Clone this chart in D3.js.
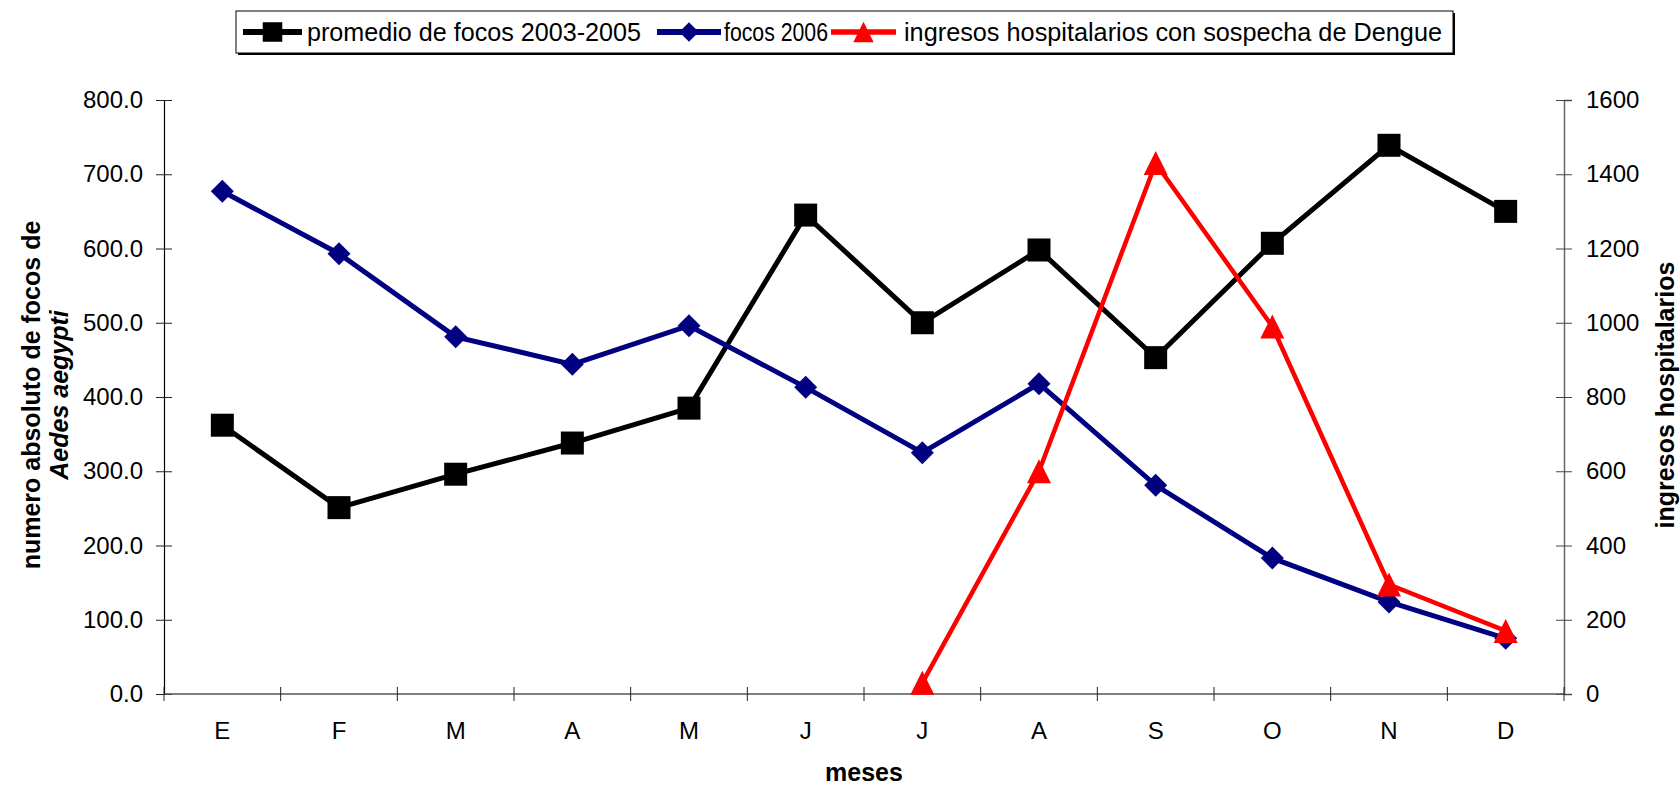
<!DOCTYPE html>
<html>
<head>
<meta charset="utf-8">
<script src="https://cdn.jsdelivr.net/npm/d3@7"></script>
<style>
  html, body { margin: 0; padding: 0; background: #fff; }
  svg { display: block; font-family: "Liberation Sans", Arial, sans-serif; }
</style>
</head>
<body>
<svg id="chart" width="1680" height="786"></svg>
<script>
// Monthly labels (Enero ... Diciembre)
const months = ["E", "F", "M", "A", "M", "J", "J", "A", "S", "O", "N", "D"];
// Average number of Aedes aegypti foci, 2003-2005 (left axis)
const promedio = [362, 251, 296, 338, 385, 645, 500, 598, 453, 607, 739, 650];
// Foci recorded in 2006 (left axis)
const focos2006 = [677, 593, 481, 444, 496, 413, 325, 418, 281, 183, 124, 75];
// Hospital admissions with suspected dengue (right axis); none before July
const ingresos = [null, null, null, null, null, null, 30, 600, 1430, 990, 295, 170];
// Axis ticks
const leftTicks = [0, 100, 200, 300, 400, 500, 600, 700, 800];
const rightTicks = [0, 200, 400, 600, 800, 1000, 1200, 1400, 1600];

const svg = d3.select("#chart");
const plot = { left: 164, right: 1564, top: 100, bottom: 694 };

const x = d3.scaleBand().domain(d3.range(months.length)).range([plot.left, plot.right]);
const cx = i => x(i) + x.bandwidth() / 2;
const yL = d3.scaleLinear().domain([0, 800]).range([plot.bottom, plot.top]);
const yR = d3.scaleLinear().domain([0, 1600]).range([plot.bottom, plot.top]);

const FONT = 24;
const TITLE_FONT = 25;

// ---- Left axis ----
const gL = svg.append("g").attr("transform", `translate(${plot.left},0)`)
  .call(d3.axisLeft(yL).tickValues(leftTicks).tickFormat(d3.format(".1f")).tickSize(8).tickPadding(13));
gL.select(".domain").attr("stroke", "#000").attr("stroke-width", 1.2);
gL.selectAll(".tick line").attr("x1", -8).attr("x2", 8).attr("stroke", "#222");
gL.selectAll(".tick text").attr("font-size", FONT).attr("fill", "#000")
  .attr("font-family", "Liberation Sans, Arial, sans-serif");

// ---- Right axis ----
const gR = svg.append("g").attr("transform", `translate(${plot.right},0)`)
  .call(d3.axisRight(yR).tickValues(rightTicks).tickFormat(d3.format("d")).tickSize(8).tickPadding(14));
gR.select(".domain").attr("stroke", "#666").attr("stroke-width", 1.5);
gR.selectAll(".tick line").attr("x1", -8).attr("x2", 8).attr("stroke", "#444");
gR.selectAll(".tick text").attr("font-size", FONT).attr("fill", "#000")
  .attr("font-family", "Liberation Sans, Arial, sans-serif");

// ---- Bottom (category) axis: ticks on the month boundaries ----
const gX = svg.append("g").attr("transform", `translate(0,${plot.bottom})`);
gX.append("line").attr("x1", plot.left).attr("x2", plot.right)
  .attr("y1", 0).attr("y2", 0).attr("stroke", "#555").attr("stroke-width", 1.5);
const boundaries = d3.range(months.length + 1).map(i => i < months.length ? x(i) : plot.right);
gX.selectAll("line.tk").data(boundaries).join("line").attr("class", "tk")
  .attr("x1", d => d).attr("x2", d => d).attr("y1", -7).attr("y2", 7)
  .attr("stroke", "#222").attr("stroke-width", 1);
gX.selectAll("text.mlab").data(months).join("text").attr("class", "mlab")
  .attr("x", (d, i) => cx(i)).attr("y", 45)
  .attr("text-anchor", "middle").attr("font-size", FONT).text(d => d);

// ---- Axis titles ----
svg.append("text").attr("x", (plot.left + plot.right) / 2).attr("y", 781)
  .attr("text-anchor", "middle").attr("font-size", TITLE_FONT).attr("font-weight", "bold").text("meses");

const yTitle = svg.append("g").attr("transform", "translate(0,395) rotate(-90)");
yTitle.append("text").attr("x", 0).attr("y", 40).attr("text-anchor", "middle")
  .attr("font-size", TITLE_FONT).attr("font-weight", "bold").text("numero absoluto de focos de");
const l2 = yTitle.append("text").attr("x", 0).attr("y", 68).attr("text-anchor", "middle")
  .attr("font-size", TITLE_FONT).attr("font-weight", "bold");
l2.append("tspan").attr("font-style", "italic").text("Aedes aegypti");

svg.append("text").attr("transform", "translate(1674,395) rotate(-90)")
  .attr("text-anchor", "middle").attr("font-size", TITLE_FONT).attr("font-weight", "bold")
  .text("ingresos hospitalarios");

// ---- Marker shapes ----
const markers = {
  square: s => `M${-s},${-s}H${s}V${s}H${-s}Z`,
  diamond: s => `M0,${-s}L${s},0L0,${s}L${-s},0Z`,
  triangle: s => `M0,${-s}L${s},${s}L${-s},${s}Z`
};

const series = [
  { name: "promedio de focos 2003-2005", values: promedio, y: yL, color: "#000000", width: 5, marker: "square", size: 11.5 },
  { name: "focos 2006", values: focos2006, y: yL, color: "#000080", width: 5, marker: "diamond", size: 11.5 },
  { name: "ingresos hospitalarios con sospecha de Dengue", values: ingresos, y: yR, color: "#FF0000", width: 4.5, marker: "triangle", size: 12 }
];

series.forEach(s => {
  const pts = s.values.map((v, i) => ({ i, v })).filter(d => d.v !== null);
  const line = d3.line().x(d => cx(d.i)).y(d => s.y(d.v));
  svg.append("path").datum(pts).attr("d", line)
    .attr("fill", "none").attr("stroke", s.color).attr("stroke-width", s.width)
    .attr("stroke-linejoin", "miter");
  svg.append("g").selectAll("path").data(pts).join("path")
    .attr("transform", d => `translate(${cx(d.i)},${s.y(d.v)})`)
    .attr("d", markers[s.marker](s.size)).attr("fill", s.color);
});

// ---- Legend ----
const lg = svg.append("g");
const box = { x: 236, y: 11, w: 1217, h: 42 };
lg.append("rect").attr("x", box.x + 2).attr("y", box.y + 2).attr("width", box.w).attr("height", box.h).attr("fill", "#000");
lg.append("rect").attr("x", box.x).attr("y", box.y).attr("width", box.w).attr("height", box.h)
  .attr("fill", "#fff").attr("stroke", "#000").attr("stroke-width", 1);
const entries = [
  { x0: 243, x1: 302, tx: 307, tw: 334 },
  { x0: 657, x1: 721, tx: 724, tw: 104 },
  { x0: 831, x1: 896, tx: 904, tw: 538 }
];
const ly = box.y + box.h / 2;
series.forEach((s, k) => {
  const e = entries[k];
  lg.append("line").attr("x1", e.x0).attr("x2", e.x1).attr("y1", ly).attr("y2", ly)
    .attr("stroke", s.color).attr("stroke-width", s.width + 1);
  lg.append("path").attr("transform", `translate(${(e.x0 + e.x1) / 2},${ly})`)
    .attr("d", markers[s.marker](s.size * 0.85)).attr("fill", s.color);
  lg.append("text").attr("x", e.tx).attr("y", ly).attr("dy", "0.35em")
    .attr("font-size", 26).attr("textLength", e.tw).attr("lengthAdjust", "spacingAndGlyphs")
    .text(s.name);
});
</script>
</body>
</html>
